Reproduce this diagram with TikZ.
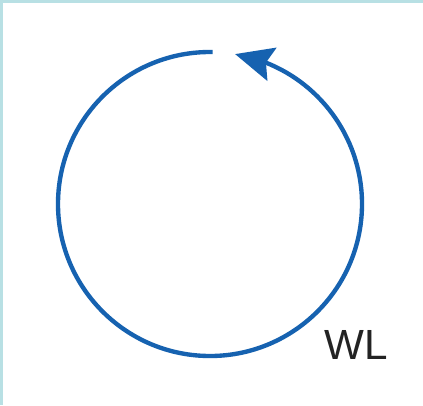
\documentclass[tikz,border=0pt]{standalone}
\usepackage{fontspec}
\setmainfont{Liberation Sans}
\usetikzlibrary{arrows.meta,bending}
\definecolor{frame}{RGB}{184,224,228}
\definecolor{loopblue}{RGB}{22,98,176}
\definecolor{ink}{RGB}{35,35,35}
\tikzset{
  loop/.style={draw=loopblue,line width=3.1pt,-{Stealth[length=9.5mm,width=8.5mm,inset=1.5mm,flex]}},
  tag/.style={font=\fontsize{30}{30}\selectfont,text=ink,inner sep=0pt},
}
\begin{document}
\begin{tikzpicture}
  % page and frame
  \fill[white] (0,0) rectangle (10.575,10.125);
  \useasboundingbox (0,0) rectangle (10.575,10.125);
  \fill[frame] (0,0) rectangle (0.075,10.125);
  \fill[frame] (0,10.05) rectangle (10.575,10.125);
  % loop
  \coordinate (c) at (5.25,5.025);
  \draw[loop] (c) ++(89:3.8) arc[start angle=89,end angle=440.5,radius=3.8];
  \node[tag] (wl) at (8.9,1.5) {WL};
\end{tikzpicture}
\end{document}
